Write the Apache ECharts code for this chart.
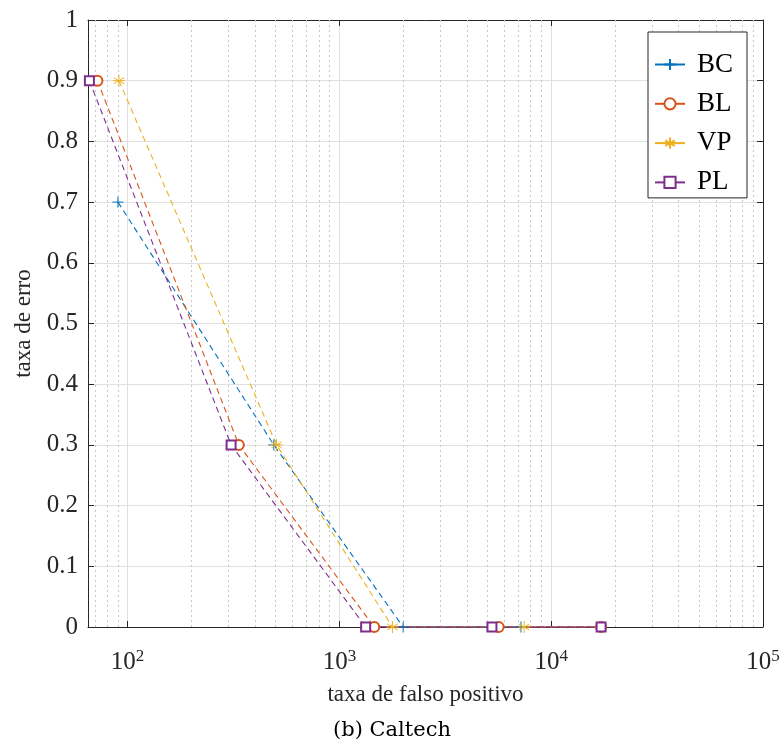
<!DOCTYPE html>
<html><head><meta charset="utf-8">
<script src="https://cdn.jsdelivr.net/npm/echarts@6/dist/echarts.min.js"></script>
<style>html,body{margin:0;padding:0;background:#fff}#c{width:784px;height:749px}</style>
</head><body><div id="c"></div>
<script>
// ---- data ----
const seriesNames = ['BC', 'BL', 'VP', 'PL'];
const bcX = [90, 490, 2000, 7200];
const bcY = [0.7, 0.3, 0, 0];
const blX = [72, 335, 1460, 5650, 17200];
const blY = [0.9, 0.3, 0, 0, 0];
const vpX = [91, 505, 1780, 7450, 17200];
const vpY = [0.9, 0.3, 0, 0, 0];
const plX = [66, 308, 1330, 5250, 17200];
const plY = [0.9, 0.3, 0, 0, 0];
const yTicks = [0, 0.1, 0.2, 0.3, 0.4, 0.5, 0.6, 0.7, 0.8, 0.9, 1];
const xMajorTicks = [100, 1000, 10000, 100000];
const minorGridX = [70, 80, 90, 200, 300, 400, 500, 600, 700, 800, 900,
  2000, 3000, 4000, 5000, 6000, 7000, 8000, 9000,
  20000, 30000, 40000, 50000, 60000, 70000, 80000, 90000];
const xMin = 65, xMax = 100000;

const zip = (xs, ys) => xs.map((x, i) => [x, ys[i]]);
const colors = { BC: '#0072BD', BL: '#D95319', VP: '#EDB120', PL: '#7E2F8E' };
const plusPath = 'path://M0,-10L0,10M-10,0L10,0';
const starPath = 'path://M0,-10L0,10M-8.66,-5L8.66,5M-8.66,5L8.66,-5M-10,0L10,0';
const serif = '"Liberation Serif","DejaVu Serif",serif';

function mkSeries(name, data, symbol, size) {
  return {
    name, type: 'line', data, symbol, symbolSize: size,
    xAxisIndex: 0, yAxisIndex: 0,
    itemStyle: { color: colors[name], borderColor: colors[name], borderWidth: 1 },
    lineStyle: { color: colors[name], width: 1.1, type: [6, 4] },
    emphasis: { disabled: true }, z: 5
  };
}

const chart = echarts.init(document.getElementById('c'), null, { renderer: 'canvas' });
const axisColor = '#262626';
const fmtX = v => {
  const e = Math.log10(v);
  const r = Math.round(e);
  return Math.abs(e - r) < 1e-6 && xMajorTicks.indexOf(Math.pow(10, r)) >= 0 ? '{b|10}{s|' + r + '}' : '';
};
chart.setOption({
  animation: false,
  grid: { left: 88, right: 21, top: 20, bottom: 122, containLabel: false },
  xAxis: [{
    type: 'log', logBase: 10, min: xMin, max: xMax, position: 'bottom',
    name: 'taxa de falso positivo', nameLocation: 'middle', nameGap: 56,
    nameTextStyle: { fontFamily: serif, fontSize: 23, color: '#262626' },
    axisLine: { show: true, onZero: false, lineStyle: { color: axisColor, width: 1 } },
    axisTick: { show: true, inside: true, length: 6, lineStyle: { color: axisColor } },
    axisLabel: {
      formatter: fmtX, margin: 21, showMinLabel: true, showMaxLabel: true,
      rich: {
        b: { fontFamily: serif, fontSize: 25, color: '#262626' },
        s: { fontFamily: serif, fontSize: 17, color: '#262626', verticalAlign: 'top', padding: [0, 0, 12, 0] }
      }
    },
    splitLine: { show: true, lineStyle: { color: '#e0e0e0', width: 1 } }
  }, {
    type: 'log', logBase: 10, min: xMin, max: xMax, position: 'top',
    axisLine: { show: true, onZero: false, lineStyle: { color: axisColor, width: 1 } },
    axisTick: { show: true, inside: true, length: 6, lineStyle: { color: axisColor } },
    axisLabel: { show: false }, splitLine: { show: false }
  }],
  yAxis: [{
    type: 'value', min: 0, max: 1, interval: 0.1, position: 'left',
    name: 'taxa de erro', nameLocation: 'middle', nameGap: 50,
    nameTextStyle: { fontFamily: serif, fontSize: 23, color: '#262626' },
    axisLine: { show: true, onZero: false, lineStyle: { color: axisColor, width: 1 } },
    axisTick: { show: true, inside: true, length: 6, lineStyle: { color: axisColor } },
    axisLabel: {
      fontFamily: serif, fontSize: 25, color: '#262626', margin: 10,
      formatter: v => {
        const t = yTicks.find(k => Math.abs(k - v) < 1e-9);
        return t === undefined ? '' : String(t);
      }
    },
    splitLine: { show: true, lineStyle: { color: '#e0e0e0', width: 1 } }
  }, {
    type: 'value', min: 0, max: 1, interval: 0.1, position: 'right',
    axisLine: { show: true, onZero: false, lineStyle: { color: axisColor, width: 1 } },
    axisTick: { show: true, inside: true, length: 6, lineStyle: { color: axisColor } },
    axisLabel: { show: false }, splitLine: { show: false }
  }],
  legend: {
    data: seriesNames, orient: 'vertical', left: 648, top: 32, z: 20,
    backgroundColor: '#fff', borderColor: '#262626', borderWidth: 1,
    padding: [19, 14, 2, 6], itemGap: 12.3, itemWidth: 30, itemHeight: 14,
    lineStyle: { type: 'solid' },
    textStyle: { fontFamily: serif, fontSize: 27, color: '#000', padding: [0, 0, 0, 7] },
    selectedMode: false
  },
  graphic: [{
    type: 'text', left: 'center', top: 720,
    style: { text: '(b) Caltech', font: '21px "DejaVu Serif", serif', fill: '#000' }
  }],
  series: [
    {
      type: 'line', data: [], silent: true, symbol: 'none',
      markLine: {
        silent: true, symbol: 'none', label: { show: false },
        lineStyle: { color: '#c8c8c8', type: [2, 3], width: 1 },
        data: minorGridX.map(v => ({ xAxis: v }))
      }, z: 1
    },
    {
      name: 'PL-solid', type: 'line', silent: true, symbol: 'none',
      data: zip(plX.slice(2), plY.slice(2)),
      lineStyle: { color: colors.PL, width: 1.5, type: 'solid' }, z: 3
    },
    mkSeries('BC', zip(bcX, bcY), plusPath, 11),
    mkSeries('BL', zip(blX, blY), 'emptyCircle', 10),
    mkSeries('VP', zip(vpX, vpY), starPath, 12),
    mkSeries('PL', zip(plX, plY), 'emptyRect', 9)
  ]
});
</script></body></html>
